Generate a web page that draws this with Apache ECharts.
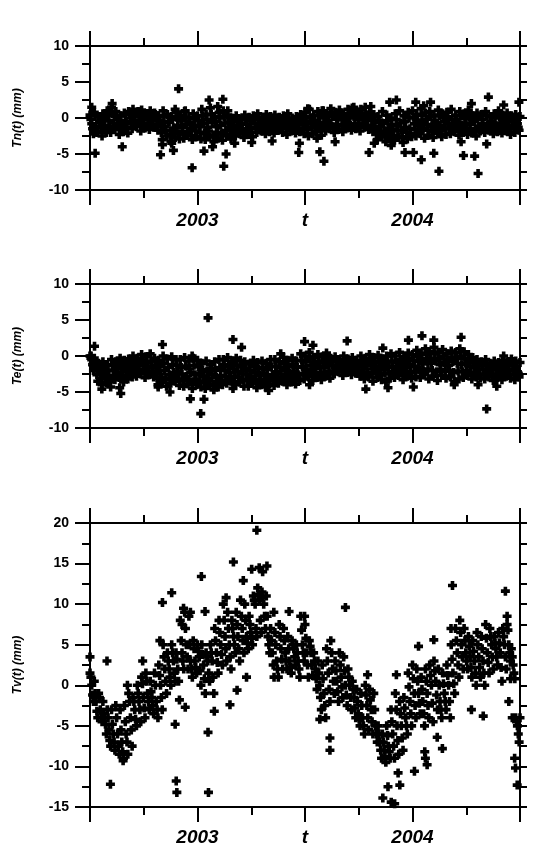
<!DOCTYPE html>
<html>
<head>
<meta charset="utf-8">
<script src="https://cdn.jsdelivr.net/npm/echarts@6/dist/echarts.min.js"></script>
<style>
  html, body { margin: 0; padding: 0; background: #fff; }
  #chart { width: 534px; height: 855px; }
</style>
</head>
<body>
<div id="chart"></div>
<script>
// time axis (decimal years)
var tMin = 2002.5, tMax = 2004.5;
var xTickValues = [2003, 2003.5, 2004];
var xTickNames = ['2003', 't', '2004'];

// dense band: one sample every bandStep years, five readings per sample
// (top, upper, middle, lower, bottom part of the cloud)
var bandStart = 2002.5, bandStep = 0.02;
var rowShift = [0, 0.004, 0.008, 0.012, 0.016];

var tnHi = [0.4,0.8,0.2,0.6, 1.0,1.5,0.9,0.3,0.7, 0.9,1.2,0.8,1.1,0.6,1.0,0.7, 0.3,1.0,0.5,0.2,0.8,
  0.4,0.9,0.1,0.6,0.3, 1.2,0.5,1.4,0.2,0.8,1.0,0.4, 0.0,0.3,-0.2,0.4,0.1,
  0.3,0.6,0.0,0.5,0.2,0.4,0.1,0.3,0.6,0.0,0.2,0.5, 0.8,1.2,0.4,0.9, 1.0,0.6,1.3,0.8,1.1,0.5,1.2,
  1.4,0.9,1.2,1.5,0.7, 0.5,0.2,0.9,0.4,0.0,0.6,1.0,0.3,0.8, 1.0,0.5,1.3,0.7,0.9,0.4,1.1,0.6,
  0.8,1.2,0.4,0.9,0.6,1.1,0.3,0.7, 0.5,0.9,0.2,0.6,1.0,0.4,0.7,0.3,0.5,0.2];
var tnUp = [-0.2,0.3,-0.5,0.1,0.4,0.6,0.2,-0.4,0.5,0.7, 0.4,0.9,0.3,0.6,0.2,0.5,-0.3,0.2,-0.5,-0.2,
  0.1,-0.4,0.0,-0.6,-0.1,-0.3,0.3,-0.2,0.5,-0.5, 0.0,0.2,-0.6,-0.5,-0.2,-0.7,-0.1,-0.4,-0.2,0.0,
  -0.3,0.1,-0.4,-0.1,-0.5,0.0,-0.2,-0.4,0.1,-0.3, 0.2,0.0,-0.3,0.3,0.6,0.3,0.8,0.4,0.7,0.2,
  0.6,0.9,0.5,0.7,0.4,0.8,-0.6,-0.3,-0.8,-0.4, -0.9,-0.2,-0.7,-0.5,0.0,0.1,-0.3,0.4,-0.2,0.2,
  -0.4,0.3,0.0,0.2,-0.2,-0.5,0.3,-0.1,0.2,-0.4, 0.1,-0.2,0.3,-0.5,0.0,0.2,-0.3,0.1,-0.4,-0.1, -0.3];
var tnMid = [-0.8,-1.2,-0.6,-1.0, -0.4,-0.7,-0.2,-0.9,-0.5, 0.0,-0.3,0.2,-0.2,0.1,-0.4,0.0, -0.8,-1.2,-0.6,-1.4,-1.0,
  -1.3,-0.9,-1.5,-1.1,-1.2, -0.8,-1.3,-0.6,-1.2,-1.0,-0.7,-1.4, -1.2,-1.0,-1.5,-0.9,-1.3,
  -0.8,-1.0,-0.6,-0.9,-0.7,-1.1,-0.8,-0.5,-1.0,-0.7,-0.9,-0.6, -0.8,-0.5,-1.1,-0.6, 0.0,-0.3,0.2,-0.2,0.1,-0.4,0.0,
  0.2,-0.2,0.1,-0.3,0.0, -1.5,-1.2,-1.8,-1.4,-1.6,-1.1,-1.7,-1.3,-1.5, -0.8,-1.1,-0.6,-0.9,-1.2,-0.7,-1.0,-0.5,
  -0.8,-1.1,-0.6,-1.0,-0.7,-0.9,-0.5,-1.2, -0.8,-1.0,-0.6,-1.1,-0.7,-0.9,-0.5,-1.0,-0.8,-1.1];
var tnDown = [-1.5,-2.0,-1.3,-1.7,-1.2,-1.4,-1.1,-1.6,-1.3,-0.8, -1.0,-0.6,-1.1,-0.7,-1.0,-0.9,-2.0,-1.7,-2.3,-1.9,
  -2.2,-1.9,-2.1,-2.4,-1.8,-2.0,-2.1,-1.8,-2.4,-2.0, -2.2,-1.7,-2.3,-1.9,-1.6,-2.1,-1.7,-2.0,-1.4,-1.6,
  -1.3,-1.5,-1.2,-1.7,-1.4,-1.2,-1.5,-1.3,-1.6,-1.4, -1.6,-1.3,-1.9,-1.5,-1.0,-0.8,-1.2,-0.9,-1.1,-0.7,
  -1.0,-0.8,-1.1,-0.7,-1.0,-1.2,-2.2,-1.9,-2.5,-2.1, -2.4,-1.8,-2.6,-2.0,-2.2,-1.6,-1.8,-1.4,-1.7,-1.9,
  -1.5,-1.8,-1.4,-1.5,-1.7,-1.3,-1.6,-1.4,-1.8,-1.5, -1.7,-1.4,-1.5,-1.3,-1.6,-1.4,-1.2,-1.5,-1.4,-1.3, -1.6];
var tnLo = [-2.2,-1.8,-2.5,-2.0, -2.0,-1.6,-2.3,-1.9,-2.1, -1.5,-1.2,-1.8,-1.4,-1.6,-1.3,-1.7, -3.0,-2.5,-3.2,-2.7,-2.9,
  -2.8,-2.4,-3.0,-2.6,-2.9, -3.0,-2.6,-3.3,-2.8,-3.1,-2.5,-2.9, -2.5,-2.2,-2.7,-2.3,-2.6,
  -2.0,-1.8,-2.2,-1.9,-2.1,-1.7,-2.0,-2.3,-1.8,-2.1,-1.9,-2.2, -2.5,-2.2,-2.8,-2.4, -1.8,-1.5,-2.0,-1.6,-1.9,-1.4,-1.7,
  -1.5,-1.8,-1.3,-1.6,-1.9, -3.0,-2.6,-3.3,-2.8,-3.1,-2.7,-3.4,-2.9,-2.6, -2.5,-2.2,-2.8,-2.4,-2.7,-2.1,-2.6,-2.3,
  -2.2,-1.9,-2.4,-2.0,-2.3,-2.1,-2.5,-1.8, -2.0,-1.7,-2.2,-1.9,-2.1,-1.8,-2.3,-2.0,-1.7,-2.1];
var tnOutT = [2002.508,2002.524,2002.603,2002.650,2002.828,2002.837,2002.888,2002.880,2002.912,2002.896,2002.943,2002.975,
  2003.030,2003.054,2003.070,2003.094,2003.118,2003.122,2003.133,2003.141,2003.173,2003.252,2003.347,2003.471,2003.474,
  2003.513,2003.569,2003.588,2003.585,2003.640,2003.727,2003.806,2003.798,2003.822,2003.894,2003.925,2003.901,2003.965,
  2004.004,2004.015,2004.041,2004.052,2004.084,2004.099,2004.123,2004.226,2004.237,2004.274,2004.289,2004.305,2004.345,
  2004.353,2004.424,2004.495];
var tnOutV = [1.5,-4.9,2.0,-4.0,-5.1,-3.7,-4.5,-3.5,4.05,1.2,1.0,-6.9,
  -4.6,2.5,-4.0,1.6,2.6,-6.7,-5.0,1.0,-3.5,-3.4,-3.2,-4.8,-3.5,
  1.3,-4.7,-6.0,1.0,-3.3,1.5,1.6,-4.8,-3.5,2.2,2.5,-3.8,-4.8,
  -4.8,2.2,-5.8,1.7,2.2,-4.9,-7.4,-3.3,-5.2,2.0,-5.3,-7.7,-3.6,
  2.9,1.8,2.2];

var teHi = [0.0,-0.3, -1.0,-0.8,-1.2, -0.5,-0.8,-0.3,-0.6,-0.4, 0.0,-0.3,0.2,-0.1,0.3, -0.3,-0.6,0.0,-0.4,-0.1,-0.5,
  -0.5,-0.2,-0.7,-0.3,-0.6, -1.0,-0.7,-1.2,-0.8,-0.5, -0.5,-0.2,-0.7,-0.3,-0.6, -0.8,-1.1,-0.6,-0.9,-0.7,-1.0,-0.5,
  -0.5,-0.8,-0.2,-0.6,-0.3,-0.7, 0.3,0.0,0.5,-0.2,0.2,-0.1,0.4, -0.3,-0.1,-0.5,0.0,-0.4,-0.2,-0.6,
  0.0,-0.3,0.2,-0.2,0.1,-0.4,0.0, 0.3,0.0,0.5,-0.1,0.4,0.2, 0.8,0.4,1.0,0.6,1.2,0.5,0.9,0.3,0.7,0.5,
  1.0,0.6,0.2,-0.2,-0.5, -0.8,-0.5,-1.0,-0.7,-0.9,-0.6,-0.8,-0.4,-0.7,-0.9];
var teUp = [-0.3,-0.8,-1.8,-1.5,-2.0,-1.3,-1.5,-1.0,-1.4,-1.2, -0.8,-1.1,-0.6,-0.9,-0.7,-1.3,-1.5,-1.0,-1.6,-1.2,
  -1.3,-1.6,-1.4,-1.8,-1.3,-1.5,-1.9,-2.1,-1.7,-2.0, -1.6,-1.2,-1.4,-1.0,-1.3,-1.5,-1.7,-2.0,-1.5,-1.8,
  -1.6,-1.9,-1.5,-1.4,-1.6,-1.1,-1.5,-1.2,-1.6,-0.6, -0.8,-0.4,-1.0,-0.7,-0.9,-0.5,-0.8,-0.6,-0.9,-0.5,
  -0.8,-0.7,-1.0,-0.8,-1.1,-0.6,-0.9,-0.7,-1.2,-0.8, -0.7,-0.9,-0.5,-0.8,-0.4,-0.6,-0.1,-0.4,0.2,-0.3,
  0.3,-0.4,0.0,-0.6,-0.2,-0.3,0.0,-0.4,-0.7,-0.9, -1.2,-1.3,-1.1,-1.4,-1.2,-1.5,-1.1,-1.3,-1.0,-1.4, -1.2];
var teMid = [-0.5,-1.5, -2.5,-2.2,-2.8, -2.0,-2.3,-1.8,-2.2,-1.9, -1.5,-1.8,-1.3,-1.6,-1.4, -2.2,-2.5,-2.0,-2.6,-2.3,-2.1,
  -2.5,-2.8,-2.3,-2.6,-2.4, -2.8,-3.1,-2.6,-3.0,-2.7, -2.0,-2.3,-1.8,-2.2,-2.5, -2.5,-2.8,-2.3,-2.7,-2.4,-2.9,-2.6,
  -2.2,-2.5,-2.0,-2.4,-2.1,-2.6, -1.5,-1.8,-1.3,-1.7,-1.4,-1.6,-1.2, -1.3,-1.5,-1.1,-1.4,-1.2,-1.6,-1.3,
  -1.5,-1.8,-1.3,-1.7,-1.4,-1.9,-1.6, -1.5,-1.7,-1.3,-1.6,-1.2,-1.4, -0.8,-1.1,-0.6,-1.0,-0.7,-1.2,-0.9,-1.3,-0.8,-1.0,
  -1.2,-1.0,-1.4,-1.6,-1.8, -1.8,-2.0,-1.6,-1.9,-2.1,-1.7,-2.0,-1.8,-2.2,-1.9];
var teDown = [-1.2,-2.6,-3.2,-3.0,-3.6,-2.7,-2.6,-2.9,-2.7,-2.4, -2.1,-2.3,-2.0,-2.2,-2.1,-3.1,-3.0,-3.3,-3.1,-2.9,
  -3.2,-3.4,-3.3,-3.6,-3.2,-3.5,-3.7,-3.4,-3.9,-3.6, -3.4,-2.9,-3.1,-2.8,-3.0,-3.3,-3.4,-3.2,-3.5,-3.3,
  -3.5,-3.2,-3.4,-3.0,-3.1,-2.9,-3.2,-2.9,-3.3,-2.4, -2.5,-2.2,-2.6,-2.3,-2.5,-2.1,-2.3,-1.9,-2.0,-1.8,
  -2.0,-2.1,-2.0,-2.4,-2.3,-2.5,-2.2,-2.6,-2.4,-2.5, -2.3,-2.2,-2.4,-2.1,-2.3,-2.2,-1.9,-2.1,-1.8,-2.0,
  -2.2,-1.9,-2.1,-2.0,-2.3,-2.1,-2.2,-2.0,-2.3,-2.4, -2.5,-2.6,-2.4,-2.7,-2.5,-2.6,-2.3,-2.5,-2.6,-2.4, -2.7];
var teLo = [-2.0,-3.5, -4.0,-3.7,-4.3, -3.3,-3.0,-3.6,-3.2,-2.9, -2.8,-2.5,-3.0,-2.6,-2.9, -4.0,-3.6,-4.2,-3.8,-3.5,-4.1,
  -4.2,-3.9,-4.5,-4.0,-4.3, -4.5,-4.1,-4.7,-4.3,-4.0, -3.8,-3.5,-4.0,-3.6,-4.2, -4.2,-3.8,-4.4,-4.0,-4.3,-3.9,-4.1,
  -3.8,-3.5,-4.0,-3.6,-3.9,-3.4, -3.2,-2.9,-3.4,-3.0,-3.3,-2.8,-3.1, -2.5,-2.2,-2.7,-2.3,-2.6,-2.4,-2.8,
  -3.2,-2.9,-3.5,-3.0,-3.3,-3.6,-3.1, -3.0,-2.7,-3.3,-2.8,-3.1,-2.9, -3.0,-2.6,-3.2,-2.8,-3.4,-2.7,-3.1,-2.9,-3.5,-3.2,
  -3.0,-2.7,-3.2,-2.9,-3.1, -3.2,-2.9,-3.4,-3.0,-3.3,-2.8,-3.1,-3.3,-2.9,-3.2];
var teOutT = [2002.505,2002.521,2002.555,2002.643,2002.638,2002.817,2002.837,2002.872,2002.967,2002.975,
  2003.015,2003.030,2003.049,2003.165,2003.165,2003.205,2003.331,2003.387,2003.498,2003.537,2003.521,
  2003.696,2003.783,2003.862,2003.886,2003.981,2004.004,2004.044,2004.099,2004.194,2004.226,2004.305,
  2004.345,2004.392,2004.424];
var teOutV = [0.0,1.35,-4.6,-5.2,-4.4,-4.3,1.6,-5.0,-5.95,0.0,
  -8.0,-6.0,5.3,2.3,-4.5,1.2,-4.8,0.3,2.0,1.5,-4.0,
  2.1,-4.6,1.1,-4.4,2.2,-4.3,2.8,2.2,-4.0,2.6,-4.0,
  -7.35,-4.2,0.0];

var tvHi = [1.5,0.5,-1,-2,-3,-3,-2.5,-3,-2.5,-1, -1.5,0,1,1.5,0.5,1.5,2.5,5,4,5,
  4,8,9,8.5,5.5,5,5,4,5,7, 8,10,9,8,9,10.5,10,8.5,11,12, 11.5,11,7,6.5,7.5,7,6,5.5,5,8.5,
  7.5,5.5,4,3,2.5,4.5,5.5,3,4,3.5, 2,0.5,-0.5,-1,0,-0.5,-1,-5,-6,-5, -3,-1,-2,-1.5,1.5,2.5,2,1,2,2.5,
  3,2,1.5,2.5,5,7,8,7,6,5.5, 6.5,6,7.5,7,6,6.5,7,8.5,4.5,-4, -4];
var tvUp = [1.0,-1.0,-1.5,-3.5,-4.0,-4.8,-4.0,-5.5,-4.5,-2.0, -2.0,-1.0,0.2,0.5,-0.8,0.0,1.2,3.5,3.0,4.0,
  3.2,5.5,7.0,5.0,4.5,4.2,3.8,3.5,4.0,5.5, 6.5,8.0,7.0,7.0,7.5,8.5,8.0,7.5,10.5,11.2,
  10.8,8.5,5.5,5.0,6.0,5.5,4.5,5.0,4.0,6.8, 5.8,4.8,3.0,1.5,0.8,3.0,4.0,1.8,2.5,1.8,
  1.0,-0.5,-2.0,-2.5,-1.2,-1.8,-3.0,-6.0,-7.0,-6.2, -4.5,-3.0,-3.5,-2.8,-0.2,0.8,0.5,-0.5,0.5,1.2,
  1.8,0.0,0.2,1.2,3.2,5.5,6.5,5.5,4.8,4.2, 5.0,4.5,5.8,6.0,5.2,5.2,6.0,6.8,3.5,-4.5, -5.0];
var tvMid = [0,-2,-3,-4,-5.5,-6,-6,-7,-6,-4, -3,-2,-1.5,-1,-1.5,-2,0,2,2,3,
  2,4,5,3,3,3.5,2.5,3,3,4, 5,6,5,6,6,7,6,6.5,10,10.5, 10,6,4,3,4.5,4,3,4.5,3,5,
  4,4,2,0,-1,1.5,2,0.5,1,0, 0,-1.5,-3.5,-4,-2.5,-3,-5,-7,-8,-7.5, -6,-5,-5,-4,-2,-1,-1,-2,-1,0,
  0.5,-2,-1,0,1.5,4,5,4,3.5,3, 3.5,3,4,5,4.5,4,5,5,2.5,-5, -6];
var tvDown = [-1.2,-3.2,-4.0,-4.8,-6.8,-7.0,-7.5,-8.2,-7.0,-5.5, -4.2,-3.0,-2.8,-2.0,-2.5,-3.0,-1.5,0.5,1.0,1.5,
  0.5,3.0,3.5,2.0,2.2,1.8,0.8,1.5,1.0,2.8, 3.8,4.5,3.5,5.0,4.5,5.5,5.2,5.8,7.0,8.0,
  8.5,5.0,2.5,2.0,3.2,3.0,2.2,3.5,2.0,4.0, 2.5,2.5,0.8,-1.5,-2.5,-0.5,0.5,-0.8,-0.2,-1.2,
  -1.5,-2.8,-4.2,-5.0,-4.0,-4.5,-6.0,-8.0,-8.8,-8.2, -7.5,-6.8,-6.5,-5.0,-3.5,-2.5,-2.2,-3.5,-2.5,-2.2,
  -1.2,-3.0,-2.0,-2.0,0.2,2.5,3.5,3.0,2.2,1.5, 2.2,1.5,2.8,3.5,3.5,2.2,3.5,4.0,1.5,-6.0, -6.8];
var tvLo = [-2,-4,-4.5,-6,-7.5,-8,-8.5,-9,-8.5,-7.5, -5,-4.5,-4,-3,-3.5,-4,-3,-1,0,0.5,
  -1.8,2,2,1,1.5,0,-1,0.5,-1,1.5, 2.5,3,2,4,3,4,4.5,5,6,6.5, 7,4,1,1,2,2,1.5,2.5,1,3,
  1,1.2,-0.5,-3,-4,-2,-1,-2,-1.5,-2.5, -3,-4,-5,-6,-5.5,-6,-7,-9,-9.5,-9, -9,-8.5,-8,-6,-5,-4,-3.5,-5,-4,-4.5,
  -3,-4,-3,-4,-1,1,2,2,1,0, 1,0,1.5,2,2.5,0.5,2,3,0.8,-7, -7.5];
var tvOutT = [2002.500,2002.579,2002.595,2002.654,2002.674,2002.745,2002.837,2002.880,2002.825,2002.901,2002.904,
  2002.896,2002.928,2002.935,2002.967,2002.943,2003.018,2003.035,2003.049,2003.051,2003.078,2003.133,2003.151,
  2003.167,2003.213,2003.184,2003.228,2003.252,2003.276,2003.287,2003.303,2003.323,2003.355,2003.426,2003.498,
  2003.569,2003.616,2003.616,2003.688,2003.791,2003.862,2003.886,2003.901,2003.917,2003.933,2003.941,2003.925,
  2004.009,2004.028,2004.057,2004.060,2004.068,2004.099,2004.115,2004.139,2004.179,2004.186,2004.274,2004.329,
  2004.432,2004.440,2004.448,2004.456,2004.479,2004.487,2004.475,2004.464];
var tvOutV = [3.5,3.0,-12.2,-9.3,0.0,3.0,10.2,11.4,5.5,-11.8,-13.2,
  -4.8,7.5,9.5,9.0,-2.7,13.4,9.1,-5.8,-13.2,-3.2,10.8,-2.4,
  15.2,12.9,-0.6,1.0,14.3,19.1,14.5,14.0,14.7,9.0,9.1,8.5,
  -4.2,-6.5,-8.0,9.6,1.3,-13.9,-12.5,-14.4,-14.6,-10.8,-12.3,1.3,
  -10.6,4.8,-8.2,-9.0,-9.8,5.6,-6.4,-7.8,7.0,12.3,-3.0,-3.8,
  11.6,7.5,-2.0,0.8,-10.2,-12.3,-9.0,-4.0];

var panelNames = ['Tn(t) (mm)', 'Te(t) (mm)', 'Tv(t) (mm)'];

function buildPoints(rows, outT, outV) {
  var pts = [];
  rows.forEach(function (row, r) {
    row.forEach(function (v, i) {
      pts.push([bandStart + bandStep * i + rowShift[r], v]);
    });
  });
  outT.forEach(function (t, i) { pts.push([t, outV[i]]); });
  return pts;
}

var panels = [
  { top: 46, height: 144, min: -10, max: 10, pts: buildPoints([tnHi, tnUp, tnMid, tnDown, tnLo], tnOutT, tnOutV) },
  { top: 284, height: 144, min: -10, max: 10, pts: buildPoints([teHi, teUp, teMid, teDown, teLo], teOutT, teOutV) },
  { top: 523, height: 284, min: -15, max: 20, pts: buildPoints([tvHi, tvUp, tvMid, tvDown, tvLo], tvOutT, tvOutV) }
];

var font = 'Liberation Sans, Arial, sans-serif';
var line = { color: '#000', width: 2 };
// bold plus marker, arms 4/10 thick
var plus = 'path://M3,0h4v3h3v4h-3v3h-4v-3h-3v-4h3z';

var grid = [], xAxis = [], yAxis = [], series = [];
panels.forEach(function (p, k) {
  grid.push({ left: 90, right: 14, top: p.top, height: p.height, containLabel: false, outerBoundsMode: 'none' });
  ['bottom', 'top'].forEach(function (pos) {
    xAxis.push({
      type: 'value', gridIndex: k, position: pos, min: tMin, max: tMax, interval: 0.5,
      axisLine: { show: true, onZero: false, lineStyle: line },
      axisTick: { show: true, length: 15, lineStyle: line },
      minorTick: { show: true, splitNumber: 2, length: 8, lineStyle: line },
      splitLine: { show: false },
      axisLabel: {
        show: pos === 'bottom', margin: 21, color: '#000', fontFamily: font,
        fontSize: 19, fontWeight: 'bold', fontStyle: 'italic',
        formatter: function (v) {
          var j = xTickValues.indexOf(v);
          return j < 0 ? '' : xTickNames[j];
        }
      }
    });
  });
  yAxis.push({
    type: 'value', gridIndex: k, position: 'left', min: p.min, max: p.max, interval: 5,
    name: panelNames[k], nameLocation: 'middle', nameGap: 66,
    nameTextStyle: { color: '#000', fontFamily: font, fontSize: 12, fontWeight: 'bold', fontStyle: 'italic' },
    axisLine: { show: true, onZero: false, lineStyle: line },
    axisTick: { show: true, length: 15, lineStyle: line },
    minorTick: { show: true, splitNumber: 2, length: 8, lineStyle: line },
    splitLine: { show: false },
    axisLabel: { margin: 21, color: '#000', fontFamily: font, fontSize: 14, fontWeight: 'bold' }
  });
  yAxis.push({
    type: 'value', gridIndex: k, position: 'right', min: p.min, max: p.max, interval: 2.5,
    axisLine: { show: true, onZero: false, lineStyle: line },
    axisTick: { show: true, length: 7, lineStyle: line },
    splitLine: { show: false },
    axisLabel: { show: false }
  });
  series.push({
    type: 'scatter', xAxisIndex: 2 * k, yAxisIndex: 2 * k,
    symbol: plus, symbolSize: 9, silent: true,
    itemStyle: { color: '#000', opacity: 1 },
    data: p.pts
  });
});

var chart = echarts.init(document.getElementById('chart'));
chart.setOption({
  animation: false,
  backgroundColor: '#fff',
  grid: grid,
  xAxis: xAxis,
  yAxis: yAxis,
  series: series
});
</script>
</body>
</html>
